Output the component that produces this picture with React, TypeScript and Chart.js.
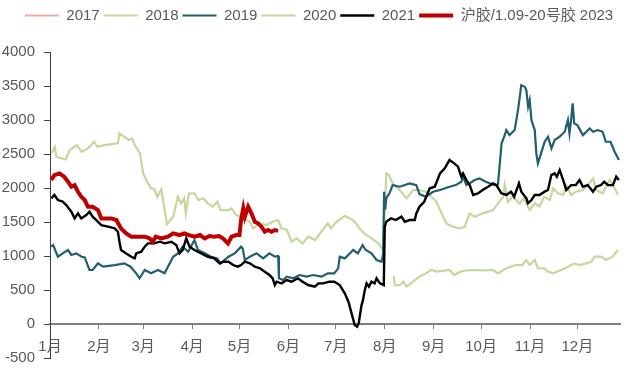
import React, { useEffect, useRef } from "react";
import { Chart, registerables } from "chart.js";

Chart.register(...registerables);

// x = day of year (0 = 1 Jan), y = spread value
const MONTH_DAYS = [0, 31, 59, 90, 120, 151, 181, 212, 243, 273, 304, 334];
const MONTH_LABELS = ["1月", "2月", "3月", "4月", "5月", "6月", "7月", "8月", "9月", "10月", "11月", "12月"];
const Y_TICKS = [-500, 0, 500, 1000, 1500, 2000, 2500, 3000, 3500, 4000];

const series2017: [number, number][] = [];

const series2018: [number, number][] = [
  [217.7, 706], [218.4, 573], [221.5, 573], [223.8, 622], [225.8, 548], [230, 622], [234, 695], [238, 744],
  [241.6, 794], [244.7, 770], [249, 780], [253, 794], [256, 720], [260, 770], [264, 790], [268, 794],
  [274, 790], [280.6, 794], [283.7, 745], [289, 819], [295, 867], [299, 867], [301.7, 941], [303.8, 867],
  [307, 941], [309, 819], [313, 819], [315.4, 770], [318.6, 745], [323.8, 794], [328, 843], [332, 892],
  [335, 867], [339.7, 892], [342.8, 916], [345, 990], [349, 990], [352, 941], [356.3, 990], [359.7, 1088],
];

const series2019: [number, number][] = [
  [0.8, 1137], [2, 1160], [5, 989], [8, 1039], [11.4, 1088], [13.5, 1015], [16.7, 1039], [20, 989],
  [22, 980], [25, 794], [27, 794], [30.4, 892], [33.5, 843], [41, 867], [47, 892], [51, 843],
  [54.6, 745], [56.7, 672], [60, 794], [64, 745], [68.4, 794], [72.6, 745], [74.7, 843], [78, 989],
  [81, 1039], [84, 1137], [87.5, 1063], [91.5, 1235], [93.7, 1088], [98, 1039], [102, 989], [106, 965],
  [108, 892], [113, 989], [117, 1039], [120, 1112], [121, 1137], [122, 1112], [123.4, 941], [126.6, 990],
  [130.8, 1039], [135, 965], [139, 1039], [142.4, 990], [144.5, 1000], [145, 672], [147.6, 647], [150, 696],
  [154, 672], [158, 720], [162.4, 696], [166.6, 720], [172, 696], [176, 745], [180, 745], [182.5, 819],
  [183.5, 990], [186.7, 965], [190, 1039], [192, 1088], [195, 1039], [198, 1161], [200, 1088], [203.6, 1039],
  [206.8, 941], [210, 916], [211, 1039], [211.6, 1945], [212.3, 1680], [213, 1850], [215, 1921], [217, 2043],
  [221.5, 2019], [224.7, 2043], [227.8, 2068], [232, 2043], [234, 1910], [238, 1872], [242.6, 1945], [247, 1970],
  [253, 2019], [257, 2043], [260.5, 2092], [261.6, 2166], [263.7, 2043], [265.8, 2068], [269, 2117], [272, 2141],
  [276, 2092], [281.6, 2043], [283.7, 2050], [286, 2656], [288, 2778], [289, 2852], [291, 2778], [294.3, 2852],
  [296.4, 3146], [298.5, 3513], [300.6, 3489], [301.7, 3440], [302.8, 3195], [303.8, 3293], [304.9, 2999], [307, 2852],
  [308, 2509], [309, 2362], [311, 2509], [313.3, 2680], [315.4, 2754], [317.6, 2582], [319.6, 2705], [322.8, 2754],
  [326, 2827], [328, 2999], [329, 2803], [330, 2999], [331, 3244], [332, 2950], [334, 2925], [337.5, 2778],
  [339.7, 2827], [341.8, 2876], [344, 2827], [347, 2852], [350, 2827], [352, 2680], [355, 2680], [357.6, 2533],
  [360.3, 2411],
];

const series2020: [number, number][] = [
  [1, 2509], [3, 2606], [4, 2460], [10, 2420], [12.5, 2558], [17, 2631], [20, 2533], [24, 2583],
  [28, 2680], [30, 2606], [34.6, 2630], [43, 2656], [44, 2803], [47, 2754], [50, 2705], [52, 2730],
  [53.6, 2631], [57, 2509], [59, 2215], [61, 2117], [64, 1995], [66, 1985], [68, 1871], [70.5, 1985],
  [72.6, 1676], [74, 1466], [78, 1577], [81, 1871], [83, 1774], [85, 1850], [86, 1627], [88, 1921],
  [91.5, 1921], [94, 1823], [97, 1848], [100, 1774], [103, 1725], [106, 1800], [108, 1676], [113, 1676],
  [115, 1700], [117, 1627], [120, 1577], [126.6, 1504], [128.7, 1406], [133, 1480], [137, 1455], [141, 1504],
  [144.5, 1529], [146.6, 1406], [150, 1382], [153, 1210], [156, 1260], [160, 1186], [163.5, 1284], [168, 1235],
  [171, 1333], [176, 1480], [178, 1406], [181.4, 1504], [186.7, 1588], [190, 1553], [193, 1504], [196, 1406],
  [199, 1333], [203.6, 1260], [208, 1186], [211, 1088], [213, 2215], [214.6, 2190], [217, 2068], [221.5, 1970],
  [225.8, 1848], [230, 1970], [234, 1970], [238, 1946], [241.6, 1871], [244.7, 1798], [247, 1676], [251, 1480],
  [255, 1431], [259.5, 1406], [262.7, 1431], [265.8, 1627], [269, 1577], [274, 1627], [280.6, 1676], [283.7, 1774],
  [287, 1871], [288, 2043], [290, 1798], [293, 1871], [297.5, 1774], [300, 1848], [303.8, 1676], [307, 1774],
  [310, 1725], [313, 1871], [316.5, 1823], [318.6, 1995], [321.8, 1921], [324.9, 1897], [327, 2043], [330, 1897],
  [333, 1946], [337.5, 1970], [340.6, 2043], [344, 2142], [346, 1970], [350, 1921], [354.4, 2117], [357.6, 1995],
  [359.7, 1897],
];

const series2021: [number, number][] = [
  [0.8, 1848], [2.8, 1897], [5, 1823], [8, 1799], [10.3, 1750], [13.5, 1651], [15.6, 1553], [17.7, 1627],
  [19.8, 1553], [23, 1602], [25, 1651], [27, 1578], [29.3, 1529], [32.5, 1455], [36.7, 1431], [41, 1406],
  [43, 1357], [44, 1210], [45, 1088], [48, 1039], [51.5, 989], [53.6, 965], [54.6, 1039], [57.8, 1063],
  [60, 1137], [62, 1186], [66, 1186], [69.6, 1210], [72.6, 1186], [76.8, 1210], [80, 1160], [82, 1039],
  [84, 1088], [86.3, 1259], [88.4, 1137], [91.5, 1088], [95.8, 1039], [100, 989], [104, 965], [107.4, 892],
  [110, 916], [113, 916], [116, 867], [119, 843], [121, 867], [123.4, 916], [126.6, 892], [129.7, 843],
  [133, 818], [136, 769], [139, 720], [141, 672], [142.4, 573], [143.5, 622], [146.6, 598], [150, 647],
  [153, 622], [157, 672], [160, 622], [163.5, 573], [167.7, 549], [170, 598], [173, 598], [177, 622],
  [180, 622], [183.5, 573], [186.7, 451], [189, 328], [191, 157], [193, -15], [194.5, -40], [195.5, 10],
  [197.3, 279], [198, 328], [199.4, 500], [200.5, 598], [202, 549], [203.6, 622], [205.6, 598], [206.8, 672],
  [209, 598], [211.4, 573], [212, 1430], [213, 1504], [216, 1553], [219, 1529], [222.6, 1578], [224.7, 1504],
  [227.8, 1529], [231, 1529], [232, 1627], [234, 1725], [237, 1798], [240.5, 1995], [243.7, 2019], [247, 2215],
  [250, 2289], [253, 2411], [256, 2362], [258.4, 2313], [260.5, 2166], [261.6, 2215], [263.7, 2117], [265.8, 2043],
  [268, 1897], [271, 1921], [274, 1970], [277.4, 2019], [280.6, 2068], [282.7, 2043], [285.9, 1921], [289, 1897],
  [292, 1946], [294, 1872], [297, 2068], [298.5, 1946], [301.7, 1848], [302.7, 1774], [304.9, 1823], [307, 1897],
  [310, 1897], [313.3, 1946], [315.4, 1970], [317.5, 2190], [319.6, 2215], [321, 2166], [322.8, 2264], [325, 2117],
  [327, 1970], [330, 2043], [333, 2043], [335.4, 2117], [337.5, 2019], [340.6, 2043], [343.9, 1946], [346, 2019],
  [349, 2043], [351, 2092], [353.4, 2043], [356.5, 2043], [358.6, 2166], [360.3, 2117],
];

const series2023: [number, number][] = [
  [0.8, 2117], [2.8, 2190], [6, 2215], [9, 2166], [11.4, 2092], [13.5, 2019], [15.6, 2043], [17.7, 1945],
  [19.8, 1872], [22, 1823], [24, 1725], [27, 1725], [30.4, 1676], [32.5, 1553], [35.6, 1553], [38.8, 1553],
  [42, 1529], [45, 1406], [48.3, 1333], [51.5, 1284], [55.7, 1284], [60, 1284], [63, 1260], [65, 1210],
  [67, 1284], [70.5, 1260], [74.7, 1284], [78, 1333], [82, 1308], [85, 1333], [88, 1308], [91.5, 1284],
  [95, 1308], [98, 1260], [101, 1294], [104, 1284], [107, 1294], [109.5, 1260], [112.7, 1186], [115, 1284],
  [118, 1308], [120, 1308], [121, 1529], [122.4, 1700], [123.4, 1578], [125.5, 1725], [127.6, 1627], [129.7, 1504],
  [131.8, 1480], [134, 1431], [136, 1357], [138, 1382], [140.3, 1357], [142.4, 1382], [144.5, 1370],
];

const SERIES_NAMES = ["2017", "2018", "2019", "2020", "2021", "沪胶/1.09-20号胶 2023"];

const FONT = '"Liberation Sans", "Noto Sans CJK SC", sans-serif';
const TEXT = "#595959";

const toPts = (s: [number, number][]) => s.map(([x, y]) => ({ x, y }));

const legendGap = {
  id: "legendGap",
  afterInit(chart: any) {
    const lg = chart.legend;
    if (!lg) return;
    const origFit = lg.fit;
    lg.fit = function () {
      origFit.call(this);
      this.height += 20;
    };
    const origDraw = lg.draw;
    lg.draw = function () {
      const ctx = this.ctx;
      ctx.save();
      ctx.translate(9, 1);
      origDraw.call(this);
      ctx.restore();
    };
  },
};

export default function App() {
  const ref = useRef<HTMLCanvasElement | null>(null);

  useEffect(() => {
    if (!ref.current) return;
    const mk = (label: string, data: [number, number][], color: string, width: number, order: number) => ({
      label,
      data: toPts(data),
      borderColor: color,
      backgroundColor: color,
      borderWidth: width,
      pointRadius: 0,
      tension: 0,
      order,
    });
    const chart = new Chart(ref.current, {
      type: "line",
      data: {
        datasets: [
          mk(SERIES_NAMES[0], series2017, "#f2a7a4", 2.2, 5),
          mk(SERIES_NAMES[1], series2018, "#c4d89e", 2.2, 4),
          mk(SERIES_NAMES[2], series2019, "#215e6e", 2.2, 2),
          mk(SERIES_NAMES[3], series2020, "#c4d89e", 2.2, 3),
          mk(SERIES_NAMES[4], series2021, "#000000", 2.4, 1),
          mk(SERIES_NAMES[5], series2023, "#c00000", 4, 0),
        ],
      },
      plugins: [legendGap],
      options: {
        responsive: false,
        animation: false,
        events: [],
        layout: { padding: { left: 0, right: 11, top: 3, bottom: 7 } },
        plugins: {
          tooltip: { enabled: false },
          legend: {
            position: "top",
            align: "center",
            labels: {
              color: TEXT,
              font: { family: FONT, size: 15 },
              usePointStyle: true,
              pointStyle: "line",
              pointStyleWidth: 34,
              boxHeight: 15,
              padding: 4,
              sort: (a: any, b: any) => a.datasetIndex - b.datasetIndex,
            },
          },
        },
        scales: {
          x: {
            type: "linear",
            min: 0,
            max: 361,
            position: { y: 0 } as any,
            afterBuildTicks: (s: any) => {
              s.ticks = MONTH_DAYS.map((v) => ({ value: v }));
            },
            grid: { display: true, drawOnChartArea: false, drawTicks: true, tickLength: 4, tickColor: "#808080" },
            border: { display: true, color: "#808080", width: 2 },
            ticks: {
              autoSkip: false,
              maxRotation: 0,
              padding: 10,
              color: TEXT,
              font: { family: FONT, size: 15 },
              callback: (_v: any, i: number) => MONTH_LABELS[i],
            },
          },
          y: {
            type: "linear",
            min: -500,
            max: 4000,
            afterBuildTicks: (s: any) => {
              s.ticks = Y_TICKS.map((v) => ({ value: v }));
            },
            afterFit: (s: any) => {
              s.width = 50;
            },
            grid: { display: true, drawOnChartArea: false, drawTicks: true, tickLength: 6, tickColor: "#404040" },
            border: { display: true, color: "#404040", width: 1 },
            ticks: {
              padding: 9,
              color: TEXT,
              font: { family: FONT, size: 15 },
              callback: (v: any) => String(v),
            },
          },
        },
      } as any,
    });
    return () => chart.destroy();
  }, []);

  return (
    <div style={{ position: "fixed", left: 0, top: 0, width: 631, height: 376, background: "#fff" }}>
      <canvas ref={ref} width={631} height={376} />
    </div>
  );
}
